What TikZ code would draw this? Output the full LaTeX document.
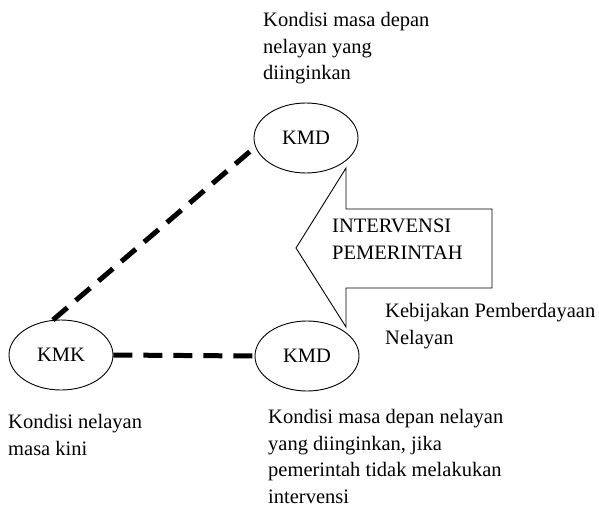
\documentclass[tikz,border=0pt]{standalone}
\usepackage{fontspec}
\setmainfont{Liberation Serif}
\usetikzlibrary{shapes.geometric}
\tikzset{
  txt/.style={inner sep=0pt, align=left, anchor=base west, font=\fontsize{20.5}{26.5}\selectfont},
  oval/.style={draw, ellipse, line width=0.9pt, minimum width=104pt, minimum height=70pt, inner sep=0pt, font=\fontsize{20.5}{24}\selectfont},
  thickdash/.style={line width=5pt, dash pattern=on 19pt off 11pt},
  arrowshape/.style={draw, line width=0.9pt}
}
\begin{document}
\begin{tikzpicture}[x=1pt,y=-1pt]
\useasboundingbox (0,0) rectangle (599,508);
% ellipses
\node[oval] (kmd1) at (306,138) {KMD};
\node[oval] (kmk) at (61,355) {KMK};
\node[oval] (kmd2) at (307,356) {KMD};
% connectors
\draw[thickdash] (kmk.103) -- (kmd1.190);
\draw[thickdash] (kmk.east) -- (kmd2.west);
% arrow
\draw[arrowshape] (296,248) -- (346,168) -- (346,209) -- (492,209) -- (492,288) -- (346,288) -- (346,327) -- cycle;
% texts (anchored at the baseline of the last line)
\node[txt] (t1) at (263,80) {Kondisi masa depan\\nelayan yang\\diinginkan};
\node[txt] (t2) at (332,259) {INTERVENSI\\PEMERINTAH};
\node[txt] (t3) at (385,344) {Kebijakan Pemberdayaan\\Nelayan};
\node[txt] (t4) at (8,455) {Kondisi nelayan\\masa kini};
\node[txt] (t5) at (268,503) {Kondisi masa depan nelayan\\yang diinginkan, jika\\pemerintah tidak melakukan\\intervensi};
\end{tikzpicture}
\end{document}
